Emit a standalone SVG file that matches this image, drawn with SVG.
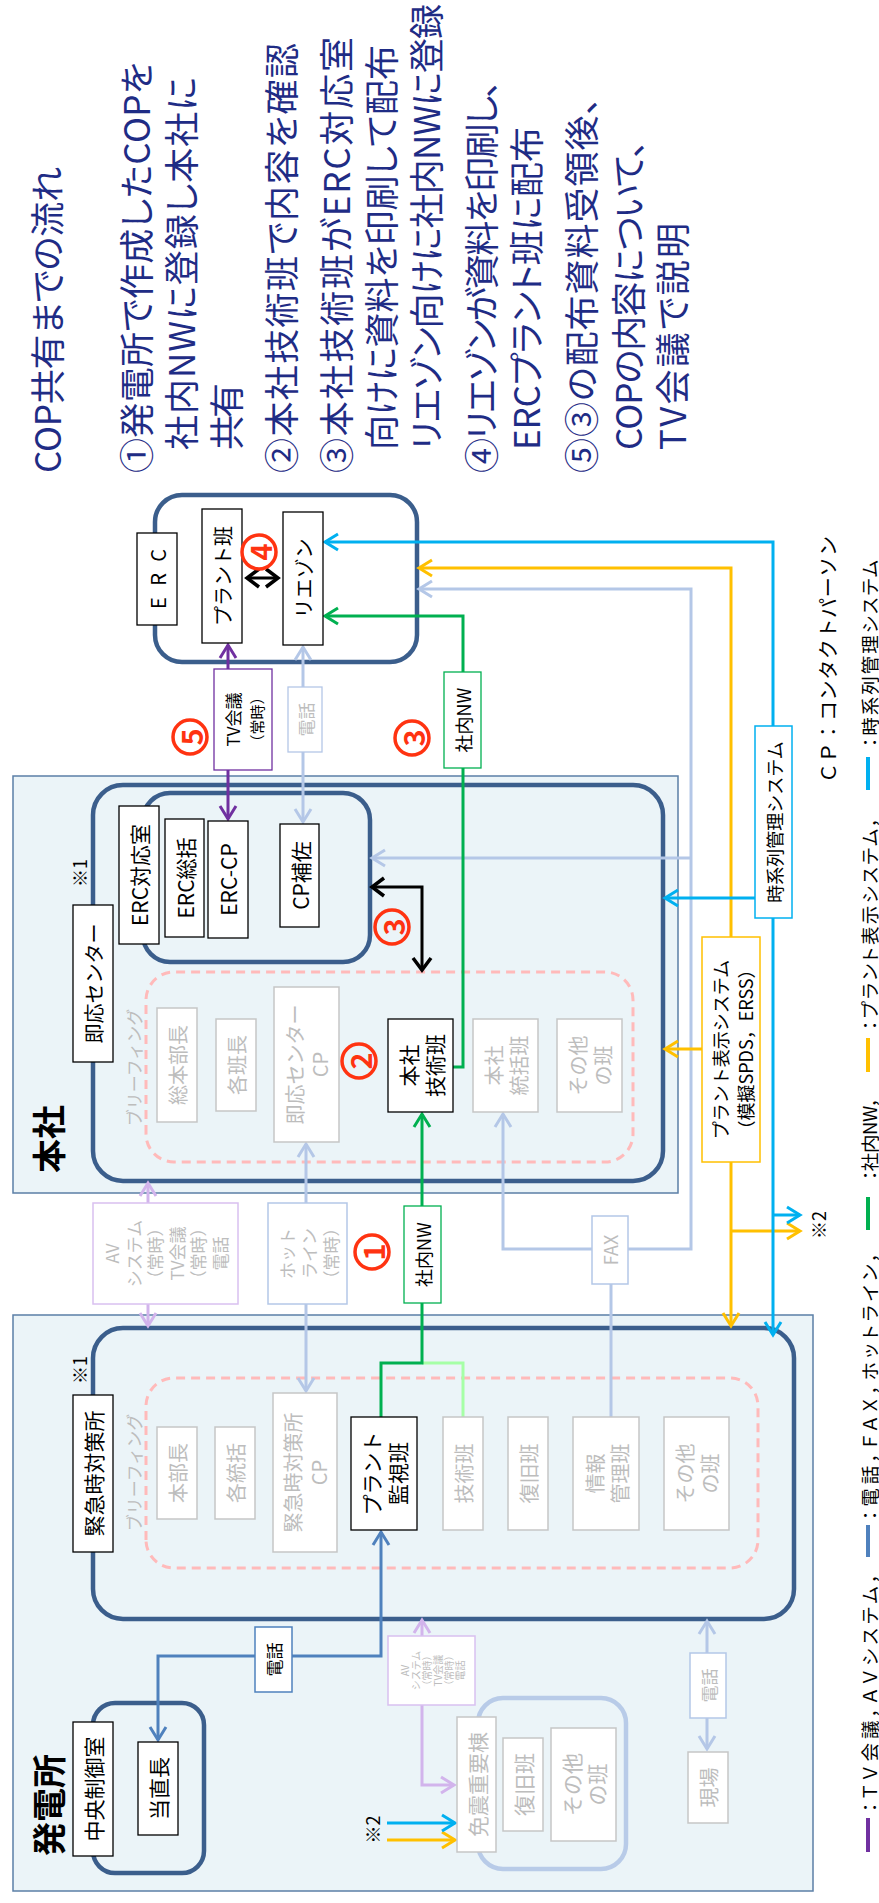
<svg xmlns="http://www.w3.org/2000/svg" width="879" height="1903" viewBox="0 0 879 1903">
<style>
text{font-family:"Noto Sans CJK JP","Noto Sans CJK SC",sans-serif}
.t{font-size:20px;fill:#000;text-anchor:middle;dominant-baseline:central}
.s17{font-size:17px}
.s18{font-size:18px}
.s10{font-size:10px}
.g{fill:#BDBDBD}
.bx{fill:#fff;stroke:#000;stroke-width:1.3}
.gb{fill:#fff;stroke:#C6C6C6;stroke-width:1.5}
.head{font-size:35px;fill:#1F2C85;dominant-baseline:central;font-feature-settings:"palt"}
.leg{font-size:18.5px;fill:#000;dominant-baseline:central;font-feature-settings:"palt"}
.navy{fill:none;stroke:#3B5E8C;stroke-width:4.5}
.reg{fill:#EBF4F8;stroke:#5B7FA6;stroke-width:1.5}
.dash{fill:none;stroke:#FFBABA;stroke-width:3;stroke-dasharray:9 6}
.c{fill:none;stroke-width:3}
.cy{stroke:#00B0F0}.or{stroke:#FFC000}.lb{stroke:#B4C7E7}.gr{stroke:#00B050}
.lg{stroke:#A6FFA6}.pu{stroke:#7030A0}.lp{stroke:#D2B4EC}.bl{stroke:#4F81BD}.bk{stroke:#000}
.num circle{fill:none;stroke:#FF3311;stroke-width:3.5}
.num text{font-size:29px;font-weight:bold;fill:#FF3311;text-anchor:middle;dominant-baseline:central}
.big{font-size:34px;font-weight:bold;fill:#000;text-anchor:middle;dominant-baseline:central}
</style>
<defs>
<marker id="mCy" markerUnits="userSpaceOnUse" markerWidth="24" markerHeight="24" viewBox="-16 -12 20 24" refX="0" refY="0" orient="auto-start-reverse"><path d="M-13,-8 L0,0 L-13,8" fill="none" stroke="#00B0F0" stroke-width="3"/></marker>
<marker id="mOr" markerUnits="userSpaceOnUse" markerWidth="24" markerHeight="24" viewBox="-16 -12 20 24" refX="0" refY="0" orient="auto-start-reverse"><path d="M-13,-8 L0,0 L-13,8" fill="none" stroke="#FFC000" stroke-width="3"/></marker>
<marker id="mLb" markerUnits="userSpaceOnUse" markerWidth="24" markerHeight="24" viewBox="-16 -12 20 24" refX="0" refY="0" orient="auto-start-reverse"><path d="M-13,-8 L0,0 L-13,8" fill="none" stroke="#B4C7E7" stroke-width="3"/></marker>
<marker id="mGr" markerUnits="userSpaceOnUse" markerWidth="24" markerHeight="24" viewBox="-16 -12 20 24" refX="0" refY="0" orient="auto-start-reverse"><path d="M-13,-8 L0,0 L-13,8" fill="none" stroke="#00B050" stroke-width="3"/></marker>
<marker id="mPu" markerUnits="userSpaceOnUse" markerWidth="24" markerHeight="24" viewBox="-16 -12 20 24" refX="0" refY="0" orient="auto-start-reverse"><path d="M-13,-8 L0,0 L-13,8" fill="none" stroke="#7030A0" stroke-width="3"/></marker>
<marker id="mLp" markerUnits="userSpaceOnUse" markerWidth="24" markerHeight="24" viewBox="-16 -12 20 24" refX="0" refY="0" orient="auto-start-reverse"><path d="M-13,-8 L0,0 L-13,8" fill="none" stroke="#D2B4EC" stroke-width="3"/></marker>
<marker id="mBl" markerUnits="userSpaceOnUse" markerWidth="24" markerHeight="24" viewBox="-16 -12 20 24" refX="0" refY="0" orient="auto-start-reverse"><path d="M-13,-8 L0,0 L-13,8" fill="none" stroke="#4F81BD" stroke-width="3"/></marker>
<marker id="mBk" markerUnits="userSpaceOnUse" markerWidth="24" markerHeight="24" viewBox="-16 -12 20 24" refX="0" refY="0" orient="auto-start-reverse"><path d="M-12,-9 L0,0 L-12,9" fill="none" stroke="#000" stroke-width="3.5"/></marker>
</defs>
<rect width="879" height="1903" fill="#fff"/>
<!-- landscape layout, turned a quarter counter-clockwise onto the page -->
<g transform="matrix(0 -1 1 0 0 1903)">

<!-- areas -->
<g id="area-honsha">
<rect class="reg" x="710" y="13" width="417" height="665"/>
<text class="big" x="764" y="47.5">本社</text>
</g>
<g id="area-plant">
<rect class="reg" x="12" y="13" width="576" height="800"/>
<text class="big" x="98" y="47.5">発電所</text>
</g>

<!-- group frames -->
<g id="frame-erc"><rect class="navy" x="1241" y="155" width="167" height="262" rx="27"/></g>
<g id="frame-sokuo"><rect class="navy" x="722" y="93" width="396" height="570" rx="30"/></g>
<g id="frame-erc-room"><rect class="navy" x="941" y="143" width="169" height="227" rx="27"/></g>
<g id="frame-brief-honsha"><rect class="dash" x="741" y="146" width="190" height="487" rx="28"/></g>
<g id="frame-kinkyu"><rect class="navy" x="284" y="93" width="291" height="701" rx="30"/></g>
<g id="frame-brief-plant"><rect class="dash" x="335" y="146" width="190" height="612" rx="28"/></g>
<g id="frame-mcr"><rect class="navy" x="30" y="93" width="170" height="111" rx="22"/></g>
<g id="frame-menshin"><rect fill="none" stroke="#B8CBE8" stroke-width="4.5" x="34" y="478" width="171" height="148" rx="25"/></g>

<!-- connectors -->
<g id="connectors">
<path class="c lb" d="M654,628 L654,691 L1314,691 L1314,419" marker-end="url(#mLb)"/>
<path class="c lb" d="M1045,691 L1045,372" marker-end="url(#mLb)"/>
<path class="c lb" d="M654,592 L654,503 L789,503" marker-end="url(#mLb)"/>
<path class="c lb" d="M619,611 L486,611"/>
<path class="c lb" d="M1216,303 L1256,303" marker-end="url(#mLb)"/>
<path class="c lb" d="M1151,303 L1081,303" marker-end="url(#mLb)"/>
<path class="c lb" d="M700,306 L759,306" marker-end="url(#mLb)"/>
<path class="c lb" d="M599,306 L512,306" marker-end="url(#mLb)"/>
<path class="c lb" d="M250,707 L282,707" marker-end="url(#mLb)"/>
<path class="c lb" d="M185,707 L154,707" marker-end="url(#mLb)"/>
<path class="c or" d="M966,731 L1335,731 L1335,419" marker-end="url(#mOr)"/>
<path class="c or" d="M854,702 L854,665" marker-end="url(#mOr)"/>
<path class="c or" d="M741,731 L577,731" marker-end="url(#mOr)"/>
<path class="c or" d="M672,731 L672,800" marker-end="url(#mOr)"/>
<path class="c or" d="M63,387 L63,455" marker-end="url(#mOr)"/>
<path class="c cy" d="M1177,773 L1361,773 L1361,325" marker-end="url(#mCy)"/>
<path class="c cy" d="M985,773 L568,773" marker-end="url(#mCy)"/>
<path class="c cy" d="M1005,755 L1005,665" marker-end="url(#mCy)"/>
<path class="c cy" d="M688,773 L688,800" marker-end="url(#mCy)"/>
<path class="c cy" d="M80,387 L80,455" marker-end="url(#mCy)"/>
<path class="c lg" d="M540,422 L540,463 L486,463"/>
<path class="c gr" d="M836,453 L836,463 L1135,463"/>
<path class="c gr" d="M1231,463 L1287,463 L1287,325" marker-end="url(#mGr)"/>
<path class="c gr" d="M697,422 L789,422" marker-end="url(#mGr)"/>
<path class="c gr" d="M600,422 L540,422 L540,381 L486,381"/>
<path class="c pu" d="M1234,228 L1258,228" marker-end="url(#mPu)"/>
<path class="c pu" d="M1133,228 L1084,228" marker-end="url(#mPu)"/>
<path class="c lp" d="M700,148 L720,148" marker-end="url(#mLp)"/>
<path class="c lp" d="M599,148 L577,148" marker-end="url(#mLp)"/>
<path class="c lp" d="M267,422 L283,422" marker-end="url(#mLp)"/>
<path class="c lp" d="M198,422 L118,422 L118,454" marker-end="url(#mLp)"/>
<path class="c bl" d="M247,292 L247,381 L371,381" marker-end="url(#mBl)"/>
<path class="c bl" d="M247,255 L247,158 L163,158" marker-end="url(#mBl)"/>
<path class="c bk" stroke-width="3.5" d="M1325,247 L1325,278" marker-start="url(#mBk)" marker-end="url(#mBk)"/>
<path class="c bk" d="M1016,372 L1016,422 L933,422" marker-start="url(#mBk)" marker-end="url(#mBk)"/>
</g>

<!-- ERC -->
<g id="n-erc"><rect class="bx" x="1278" y="137" width="92" height="40"/><text class="t" x="1294" y="157" style="text-anchor:start" textLength="60" lengthAdjust="spacing">ERC</text></g>
<g id="n-erc-plant"><rect class="bx" x="1260" y="202" width="134" height="40"/><text class="t" x="1327" y="222">プラント班</text></g>
<g id="n-liaison"><rect class="bx" x="1258" y="283" width="133" height="40"/><text class="t" x="1324.5" y="303">リエゾン</text></g>
<g id="n-tv"><rect fill="#fff" stroke="#7030A0" stroke-width="1.3" x="1133" y="214" width="101" height="58"/><text class="t s17" x="1183.5" y="232">TV会議</text><text class="t" style="font-size:15px" x="1183.5" y="256">（常時）</text></g>
<g id="n-tel-erc"><rect fill="#fff" stroke="#B4C7E7" stroke-width="1.3" x="1151" y="288" width="65" height="34"/><text class="t s17 g" x="1183.5" y="305">電話</text></g>
<g id="n-nw-upper"><rect fill="#fff" stroke="#00B050" stroke-width="1.3" x="1135" y="444" width="96" height="37"/><text class="t s18" x="1183" y="462.5">社内NW</text></g>
<g id="n-timeseries"><rect fill="#fff" stroke="#00B0F0" stroke-width="1.5" x="985" y="755" width="192" height="37"/><text class="t s18" x="1081" y="773.5">時系列管理システム</text></g>

<!-- 本社 -->
<g id="n-sokuo-label"><rect class="bx" x="841" y="73" width="157" height="40"/><text class="t" x="919.5" y="93">即応センター</text></g>
<g id="n-note1a"><text class="t s18" x="1030" y="78.5">※1</text></g>
<g id="n-erc-room"><rect class="bx" x="959" y="119" width="138" height="40"/><text class="t" style="font-size:21px" x="1028" y="139">ERC対応室</text></g>
<g id="n-erc-sokatsu"><rect class="bx" x="966" y="165" width="118" height="39"/><text class="t" style="font-size:21px" x="1025" y="184.5">ERC総括</text></g>
<g id="n-erc-cp"><rect class="bx" x="965" y="208" width="117" height="40"/><text class="t" style="font-size:21px" x="1023.5" y="228">ERC-CP</text></g>
<g id="n-cp-hosa"><rect class="bx" x="976" y="280" width="103" height="39"/><text class="t" style="font-size:21px" x="1027.5" y="299.5">CP補佐</text></g>
<g id="n-brief-honsha"><text class="t s17 g" x="835.5" y="133.5">ブリーフィング</text></g>
<g id="n-sohonbucho"><rect class="gb" x="781" y="157" width="114" height="40"/><text class="t g" x="838" y="177">総本部長</text></g>
<g id="n-kakuhancho"><rect class="gb" x="792" y="216" width="92" height="40"/><text class="t g" x="838" y="236">各班長</text></g>
<g id="n-sokuo-cp"><rect class="gb" x="761" y="274" width="155" height="65"/><text class="t g" x="838.5" y="294">即応センター</text><text class="t g" x="838.5" y="319">CP</text></g>
<g id="n-honsha-gijutsu"><rect class="bx" x="791" y="388" width="93" height="65"/><text class="t" style="font-size:21px" x="837.5" y="408">本社</text><text class="t" style="font-size:21px" x="837.5" y="434">技術班</text></g>
<g id="n-honsha-tokatsu"><rect class="gb" x="791" y="473" width="93" height="65"/><text class="t g" x="837.5" y="493">本社</text><text class="t g" x="837.5" y="518">統括班</text></g>
<g id="n-honsha-other"><rect class="gb" x="791" y="557" width="93" height="65"/><text class="t g" x="837.5" y="577">その他</text><text class="t g" x="837.5" y="602">の班</text></g>
<g id="n-plant-display"><rect fill="#fff" stroke="#FFC000" stroke-width="1.5" x="741" y="702" width="225" height="58"/><text class="t s18" x="853.5" y="720">プラント表示システム</text><text class="t s18" x="853.5" y="745">（模擬SPDS，ERSS）</text></g>
<g id="n-note2a"><text class="t s18" x="678" y="817.5">※2</text></g>

<!-- between sites -->
<g id="n-av-main"><rect fill="#fff" stroke="#D9C0F0" stroke-width="1.5" x="599" y="93" width="101" height="145"/>
<text class="t s17 g" x="649.5" y="111.5">AV</text><text class="t s17 g" x="649.5" y="133">システム</text><text class="t s17 g" x="649.5" y="154.5">（常時）</text><text class="t s17 g" x="649.5" y="176">TV会議</text><text class="t s17 g" x="649.5" y="197.5">（常時）</text><text class="t s17 g" x="649.5" y="219">電話</text></g>
<g id="n-hotline"><rect fill="#fff" stroke="#B4C7E7" stroke-width="1.5" x="599" y="268" width="101" height="79"/><text class="t s17 g" x="649.5" y="286">ホット</text><text class="t s17 g" x="649.5" y="308">ライン</text><text class="t s17 g" x="649.5" y="330">（常時）</text></g>
<g id="n-nw-lower"><rect fill="#fff" stroke="#00B050" stroke-width="1.3" x="600" y="404" width="97" height="37"/><text class="t s18" x="648.5" y="422.5">社内NW</text></g>
<g id="n-fax"><rect fill="#fff" stroke="#B4C7E7" stroke-width="1.5" x="619" y="592" width="68" height="36"/><text class="t s18 g" x="653" y="610">FAX</text></g>

<!-- 発電所 -->
<g id="n-kinkyu-label"><rect class="bx" x="351" y="73" width="157" height="40"/><text class="t" style="font-size:21px" x="429.5" y="93">緊急時対策所</text></g>
<g id="n-note1b"><text class="t s18" x="533" y="78.5">※1</text></g>
<g id="n-brief-plant"><text class="t s17 g" x="430.5" y="133.5">ブリーフィング</text></g>
<g id="n-honbucho"><rect class="gb" x="384" y="157" width="92" height="40"/><text class="t g" x="430" y="177">本部長</text></g>
<g id="n-kakutokatsu"><rect class="gb" x="384" y="215" width="92" height="40"/><text class="t g" x="430" y="235">各統括</text></g>
<g id="n-kinkyu-cp"><rect class="gb" x="351" y="273" width="159" height="64"/><text class="t g" x="430.5" y="292">緊急時対策所</text><text class="t g" x="430.5" y="318">CP</text></g>
<g id="n-plant-kanshi"><rect class="bx" x="373" y="351" width="113" height="66"/><text class="t" style="font-size:21px" x="429.5" y="371">プラント</text><text class="t" style="font-size:21px" x="429.5" y="397">監視班</text></g>
<g id="n-gijutsu"><rect class="gb" x="373" y="443" width="113" height="40"/><text class="t g" x="429.5" y="463">技術班</text></g>
<g id="n-fukkyu"><rect class="gb" x="373" y="508" width="113" height="40"/><text class="t g" x="429.5" y="528">復旧班</text></g>
<g id="n-joho"><rect class="gb" x="373" y="573" width="113" height="66"/><text class="t g" x="429.5" y="594">情報</text><text class="t g" x="429.5" y="619">管理班</text></g>
<g id="n-plant-other"><rect class="gb" x="373" y="664" width="113" height="65"/><text class="t g" x="429.5" y="684">その他</text><text class="t g" x="429.5" y="709">の班</text></g>
<g id="n-tel-blue"><rect fill="#fff" stroke="#4F81BD" stroke-width="1.5" x="211" y="255" width="65" height="37"/><text class="t s17" x="243.5" y="273.5">電話</text></g>
<g id="n-av-small"><rect fill="#fff" stroke="#D9C0F0" stroke-width="1.5" x="198" y="388" width="69" height="87"/>
<text class="t s10 g" x="232.5" y="404.5">AV</text><text class="t s10 g" x="232.5" y="415.5">システム</text><text class="t s10 g" x="232.5" y="426.5">（常時）</text><text class="t s10 g" x="232.5" y="437.5">TV会議</text><text class="t s10 g" x="232.5" y="448.5">（常時）</text><text class="t s10 g" x="232.5" y="459.5">電話</text></g>
<g id="n-mcr-label"><rect class="bx" x="47" y="73" width="134" height="40"/><text class="t" style="font-size:21px" x="114" y="93">中央制御室</text></g>
<g id="n-tochokucho"><rect class="bx" x="68" y="138" width="93" height="40"/><text class="t" style="font-size:21px" x="114.5" y="158">当直長</text></g>
<g id="n-note2b"><text class="t s18" x="73.5" y="371.5">※2</text></g>
<g id="n-menshin-label"><rect class="gb" x="51" y="457" width="135" height="39"/><text class="t g" style="font-size:21px" x="118.5" y="476.5">免震重要棟</text></g>
<g id="n-menshin-fukkyu"><rect class="gb" x="72" y="503" width="93" height="40"/><text class="t g" style="font-size:21px" x="118.5" y="523">復旧班</text></g>
<g id="n-menshin-other"><rect class="gb" x="62" y="551" width="113" height="65"/><text class="t g" style="font-size:21px" x="118.5" y="571">その他</text><text class="t g" style="font-size:21px" x="118.5" y="596">の班</text></g>
<g id="n-tel-genba"><rect fill="#fff" stroke="#B4C7E7" stroke-width="1.5" x="185" y="690" width="65" height="36"/><text class="t s17 g" x="217.5" y="708">電話</text></g>
<g id="n-genba"><rect class="gb" x="80" y="688" width="71" height="40"/><text class="t g" x="115.5" y="708">現場</text></g>

<!-- step markers -->
<g id="step-4" class="num"><circle cx="1351" cy="259" r="17"/><text x="1351" y="259">4</text></g>
<g id="step-5" class="num"><circle cx="1166" cy="190" r="17"/><text x="1166" y="190">5</text></g>
<g id="step-3a" class="num"><circle cx="1165" cy="412" r="17"/><text x="1165" y="412">3</text></g>
<g id="step-3b" class="num"><circle cx="976" cy="392" r="17"/><text x="976" y="392">3</text></g>
<g id="step-2" class="num"><circle cx="842" cy="359" r="17"/><text x="842" y="359">2</text></g>
<g id="step-1" class="num"><circle cx="651" cy="372" r="17"/><text x="651" y="372">1</text></g>

<!-- heading and steps -->
<g id="steps-text">
<text class="head" x="1430" y="45" textLength="306" lengthAdjust="spacing">COP共有までの流れ</text>
<text class="head" x="1430" y="134" textLength="411" lengthAdjust="spacing">①発電所で作成したCOPを</text>
<text class="head" x="1453" y="179" textLength="373" lengthAdjust="spacing">社内NWに登録し本社に</text>
<text class="head" x="1453" y="224" textLength="67" lengthAdjust="spacing">共有</text>
<text class="head" x="1430" y="279" textLength="430" lengthAdjust="spacing">②本社技術班で内容を確認</text>
<text class="head" x="1430" y="334" textLength="436" lengthAdjust="spacing">③本社技術班がERC対応室</text>
<text class="head" x="1453" y="379" textLength="405" lengthAdjust="spacing">向けに資料を印刷して配布</text>
<text class="head" x="1453" y="424" textLength="446" lengthAdjust="spacing">リエゾン向けに社内NWに登録</text>
<text class="head" x="1430" y="479" textLength="393" lengthAdjust="spacing">④リエゾンが資料を印刷し、</text>
<text class="head" x="1453" y="524" textLength="323" lengthAdjust="spacing">ERCプラント班に配布</text>
<text class="head" x="1430" y="579" textLength="376" lengthAdjust="spacing">⑤③の配布資料受領後、</text>
<text class="head" x="1453" y="626" textLength="310" lengthAdjust="spacing">COPの内容について、</text>
<text class="head" x="1453" y="670" textLength="227" lengthAdjust="spacing">TV会議で説明</text>
</g>

<!-- legend -->
<g id="legend">
<text class="leg" style="font-size:20px;font-feature-settings:normal" x="1120" y="827.5" textLength="247" lengthAdjust="spacing">ＣＰ：コンタクトパーソン</text>
<line x1="51" y1="868" x2="85" y2="868" stroke="#7030A0" stroke-width="4"/>
<text class="leg" x="91" y="868.5" textLength="239" lengthAdjust="spacing">：ＴＶ会議，ＡＶシステム，</text>
<line x1="346" y1="868" x2="378" y2="868" stroke="#4F81BD" stroke-width="4"/>
<text class="leg" x="383" y="868.5" textLength="268" lengthAdjust="spacing">：電話，ＦＡＸ，ホットライン，</text>
<line x1="673" y1="868" x2="706" y2="868" stroke="#00B050" stroke-width="4"/>
<text class="leg" x="723" y="868.5" textLength="83" lengthAdjust="spacing">：社内NW，</text>
<line x1="831" y1="868" x2="865" y2="868" stroke="#FFC000" stroke-width="4"/>
<text class="leg" x="873" y="868.5" textLength="213" lengthAdjust="spacing">：プラント表示システム，</text>
<line x1="1113" y1="868" x2="1146" y2="868" stroke="#00B0F0" stroke-width="4"/>
<text class="leg" x="1156" y="868.5" textLength="187" lengthAdjust="spacing">：時系列管理システム</text>
</g>
</g>
</svg>
